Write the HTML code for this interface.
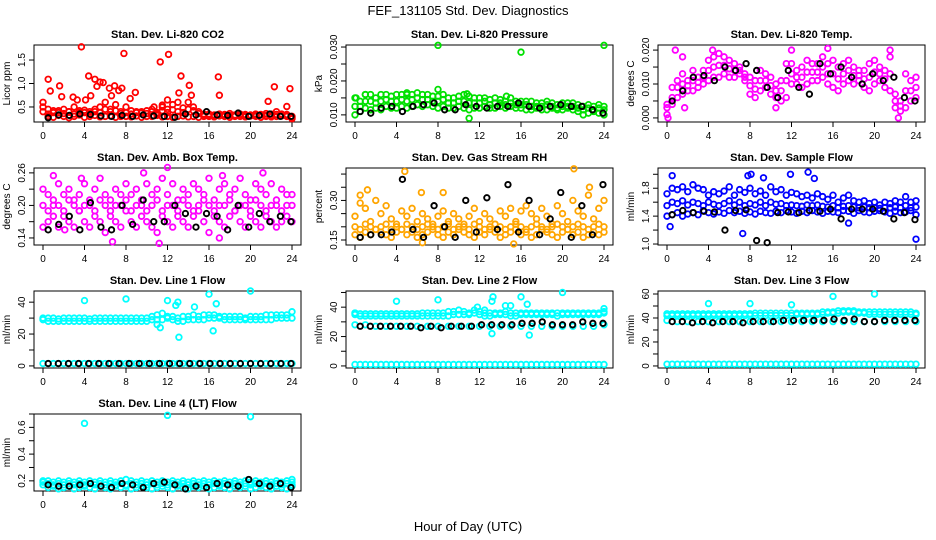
<!DOCTYPE html>
<html><head><meta charset="utf-8"><style>
html,body{margin:0;padding:0;background:#fff;}
svg{display:block;font-family:"Liberation Sans",sans-serif;}
</style></head><body>
<svg id="chart" width="936" height="540" viewBox="0 0 936 540" xmlns="http://www.w3.org/2000/svg">
<text x="468" y="15" text-anchor="middle" font-size="13">FEF_131105  Std. Dev. Diagnostics</text>
<text x="468" y="531" text-anchor="middle" font-size="13">Hour of Day (UTC)</text>
</svg>
<script>
// ---------- data ----------
const xTicks = [0,4,8,12,16,20,24];
const titles = ["Stan. Dev. Li-820 CO2","Stan. Dev. Li-820 Pressure","Stan. Dev. Li-820 Temp.","Stan. Dev. Amb. Box Temp.","Stan. Dev. Gas Stream RH","Stan. Dev. Sample Flow","Stan. Dev. Line 1 Flow","Stan. Dev. Line 2 Flow","Stan. Dev. Line 3 Flow","Stan. Dev. Line 4 (LT) Flow"];
const yTitles = ["Licor ppm","kPa","degrees C","degrees C","percent","ml/min","ml/min","ml/min","ml/min","ml/min"];
const colors = ["#ff0000","#00e000","#ff00ff","#ff00ff","#ffa500","#0000ff","#00ffff","#00ffff","#00ffff","#00ffff"];
const yMin = [0.18,0.0079,-0.0012,0.127,0.131,0.986,-1.3,-1.4,-1.7,0.124];
const yMax = [1.82,0.0306,0.0215,0.269,0.423,2.09,47,51,62.5,0.70];
const yTicks = [[0.5,1.0,1.5],[0.010,0.015,0.020,0.025,0.030],[0,0.005,0.010,0.015,0.020],[0.14,0.17,0.20,0.23,0.26],[0.15,0.20,0.25,0.30,0.35,0.40],[1.0,1.2,1.4,1.6,1.8,2.0],[0,10,20,30,40],[0,10,20,30,40,50],[0,10,20,30,40,50,60],[0.2,0.3,0.4,0.5,0.6,0.7]];
const yLabels = [["0.5","1.0","1.5"],["0.010","","0.020","","0.030"],["0.000","","0.010","","0.020"],["0.14","","0.20","","0.26"],["0.15","","","0.30","",""],["1.0","","1.4","","1.8",""],["0","","20","","40"],["0","","20","","40",""],["0","","20","","40","","60"],["0.2","","0.4","","0.6",""]];

// colored series rows (each row spread evenly across 0–24 h)
const rows0 = [
 [0.5,0.3,0.28,0.32,0.3,0.27,0.3,0.33,0.28,0.3,0.32,0.29,0.3,0.31,0.28,0.3,0.3,0.29,0.31,0.28,0.3,0.3,0.32,0.29,0.3,0.28,0.3,0.31,0.29,0.3,0.28,0.3,0.3,0.29,0.31,0.3,0.28,0.3,0.3,0.29,0.31,0.3,0.28,0.3,0.29,0.3,0.31,0.3,0.25],
 [0.4,0.35,0.38,0.42,0.36,0.4,0.35,0.38,0.43,0.36,0.4,0.38,0.45,0.4,0.42,0.36,0.38,0.35,0.4,0.37,0.36,0.4,0.35,0.42,0.38,0.44,0.4,0.38,0.45,0.42,0.36,0.33,0.32,0.31,0.32,0.33,0.32,0.31,0.33,0.32,0.31,0.32,0.33,0.32,0.31,0.34,0.32,0.31,0.28],
 [0.6,0.45,0.42,0.38,0.45,0.4,0.5,0.42,0.38,0.4,0.45,0.5,0.6,0.45,0.55,0.4,0.5,0.42,0.38,0.4,0.42,0.45,0.38,0.5,0.45,0.55,0.6,0.48,0.6,0.5,0.4,0.35,0.35,0.33,0.35,0.34,0.36,0.33,0.35,0.34,0.33,0.35,0.34,0.36,0.35,0.4,0.35,0.34,0.3]];
const rows1 = [
 [0.010,0.011,0.012,0.0115,0.012,0.0115,0.0125,0.012,0.012,0.0125,0.012,0.0125,0.013,0.0125,0.013,0.0125,0.012,0.0125,0.012,0.012,0.0125,0.012,0.0115,0.012,0.012,0.0125,0.012,0.012,0.0125,0.012,0.0125,0.012,0.012,0.0115,0.0115,0.012,0.0115,0.0115,0.012,0.0115,0.0115,0.012,0.0115,0.011,0.010,0.0105,0.011,0.0105,0.010],
 [0.0125,0.0125,0.014,0.014,0.0135,0.014,0.0145,0.014,0.014,0.0145,0.014,0.0145,0.015,0.0145,0.0145,0.014,0.014,0.0145,0.0135,0.0135,0.014,0.014,0.0135,0.0135,0.0135,0.014,0.013,0.0135,0.0135,0.013,0.0135,0.013,0.013,0.013,0.0125,0.0125,0.0125,0.013,0.0125,0.012,0.0125,0.0125,0.0125,0.012,0.0115,0.012,0.0115,0.012,0.0115],
 [0.015,0.014,0.016,0.016,0.015,0.016,0.016,0.0155,0.016,0.016,0.0165,0.016,0.0165,0.016,0.016,0.0155,0.0155,0.016,0.015,0.015,0.0155,0.016,0.0155,0.015,0.015,0.015,0.0145,0.015,0.0145,0.014,0.015,0.014,0.014,0.014,0.014,0.0135,0.0135,0.014,0.0135,0.013,0.0135,0.0135,0.0135,0.013,0.0125,0.013,0.0125,0.013,0.0125]];
const rows2 = [
 [0.001,0.004,0.006,0.007,0.008,0.008,0.009,0.01,0.011,0.012,0.012,0.013,0.012,0.012,0.013,0.011,0.007,0.006,0.008,0.009,0.007,0.006,0.005,0.006,0.01,0.01,0.009,0.01,0.011,0.011,0.012,0.01,0.009,0.008,0.01,0.011,0.01,0.011,0.009,0.008,0.01,0.011,0.009,0.008,0.003,0.002,0.003,0.005,0.006],
 [0.003,0.006,0.009,0.01,0.0095,0.011,0.0105,0.012,0.014,0.015,0.0155,0.0155,0.0145,0.014,0.014,0.012,0.0095,0.0085,0.011,0.011,0.0095,0.008,0.008,0.011,0.013,0.012,0.012,0.0135,0.0135,0.0135,0.015,0.013,0.013,0.0115,0.013,0.014,0.0125,0.0125,0.0115,0.012,0.0135,0.013,0.0115,0.013,0.005,0.0035,0.008,0.008,0.009],
 [0.004,0.009,0.011,0.013,0.011,0.014,0.012,0.014,0.017,0.018,0.019,0.018,0.017,0.016,0.015,0.013,0.012,0.011,0.014,0.013,0.012,0.01,0.011,0.016,0.016,0.014,0.015,0.017,0.016,0.016,0.018,0.016,0.017,0.015,0.016,0.017,0.015,0.014,0.014,0.016,0.017,0.015,0.014,0.018,0.007,0.005,0.013,0.011,0.012]];
const rows3 = [
 [0.16,0.17,0.18,0.16,0.18,0.17,0.16,0.19,0.17,0.16,0.18,0.17,0.15,0.18,0.17,0.16,0.19,0.17,0.16,0.18,0.17,0.16,0.15,0.18,0.17,0.16,0.18,0.17,0.16,0.18,0.19,0.17,0.15,0.18,0.17,0.16,0.18,0.19,0.17,0.16,0.18,0.17,0.16,0.18,0.17,0.16,0.17,0.18,0.17],
 [0.2,0.19,0.2,0.2,0.19,0.21,0.2,0.19,0.2,0.2,0.19,0.21,0.2,0.19,0.2,0.2,0.21,0.19,0.2,0.2,0.19,0.2,0.21,0.19,0.2,0.2,0.19,0.21,0.2,0.19,0.2,0.21,0.2,0.19,0.2,0.2,0.21,0.19,0.2,0.2,0.19,0.21,0.2,0.19,0.2,0.2,0.19,0.2,0.2],
 [0.23,0.22,0.21,0.24,0.22,0.23,0.21,0.22,0.24,0.21,0.23,0.25,0.22,0.21,0.23,0.22,0.24,0.22,0.23,0.21,0.24,0.22,0.23,0.25,0.22,0.24,0.21,0.23,0.22,0.24,0.23,0.22,0.25,0.21,0.23,0.24,0.22,0.23,0.25,0.22,0.21,0.24,0.23,0.22,0.24,0.21,0.23,0.22,0.22]];
const rows4 = [
 [0.17,0.16,0.18,0.17,0.19,0.18,0.17,0.16,0.18,0.19,0.17,0.18,0.16,0.17,0.18,0.19,0.17,0.16,0.18,0.17,0.19,0.18,0.17,0.16,0.18,0.17,0.19,0.18,0.16,0.17,0.18,0.19,0.17,0.18,0.16,0.17,0.19,0.18,0.17,0.16,0.18,0.19,0.17,0.18,0.16,0.17,0.18,0.17,0.18],
 [0.2,0.19,0.21,0.2,0.19,0.2,0.21,0.19,0.2,0.19,0.21,0.2,0.19,0.2,0.21,0.2,0.19,0.2,0.21,0.19,0.2,0.2,0.19,0.21,0.2,0.19,0.2,0.21,0.2,0.19,0.2,0.21,0.2,0.19,0.2,0.21,0.2,0.19,0.2,0.21,0.2,0.19,0.2,0.21,0.2,0.19,0.2,0.21,0.2],
 [0.24,0.29,0.27,0.22,0.3,0.25,0.28,0.23,0.21,0.26,0.24,0.27,0.22,0.25,0.23,0.21,0.24,0.26,0.22,0.25,0.23,0.21,0.24,0.27,0.22,0.25,0.23,0.21,0.26,0.24,0.27,0.22,0.26,0.28,0.25,0.23,0.27,0.24,0.21,0.28,0.25,0.22,0.3,0.26,0.24,0.32,0.23,0.27,0.3]];
const rows5 = [
 [1.4,1.42,1.45,1.4,1.43,1.45,1.42,1.48,1.45,1.43,1.46,1.44,1.48,1.45,1.47,1.44,1.46,1.43,1.47,1.45,1.44,1.47,1.45,1.48,1.46,1.44,1.47,1.45,1.48,1.46,1.44,1.47,1.46,1.45,1.48,1.47,1.44,1.48,1.46,1.45,1.47,1.48,1.46,1.44,1.47,1.45,1.46,1.48,1.42],
 [1.55,1.6,1.58,1.62,1.56,1.6,1.58,1.55,1.6,1.57,1.55,1.58,1.62,1.56,1.6,1.55,1.58,1.56,1.6,1.55,1.6,1.57,1.58,1.55,1.56,1.55,1.54,1.56,1.55,1.56,1.54,1.53,1.55,1.52,1.54,1.55,1.53,1.52,1.53,1.52,1.52,1.51,1.52,1.52,1.53,1.52,1.55,1.52,1.53],
 [1.72,1.8,1.78,1.82,1.75,1.85,1.8,1.78,1.7,1.75,1.72,1.76,1.82,1.7,1.78,1.74,1.8,1.72,1.76,1.7,1.82,1.75,1.78,1.7,1.74,1.72,1.68,1.7,1.66,1.72,1.68,1.64,1.7,1.6,1.66,1.7,1.62,1.6,1.62,1.58,1.6,1.56,1.6,1.58,1.62,1.6,1.68,1.6,1.62]];
const rows6 = [
 [29,28,28,28,28,28,28,28,28,28,28,28,28,28,28,28,28,28,28,28,28,29,29,29,30,29,28,28,29,29,29,29,30,30,30,29,29,29,29,29,29,29,29,29,29,30,30,30,30],
 [30,30,30,29.5,30,30,30,30,30,29.5,30,30,30,30,30,30,30,30,30,30,30,31,32,33,31,31,30,31,31,32,31,32,32,32,31,31,31,31,31,30,31,31,31,32,32,32,32,32,34],
 [1.5,1.5,1.5,1.5,1.5,1.5,1.5,1.5,1.5,1.5,1.5,1.5,1.5,1.5,1.5,1.5,1.5,1.5,1.5,1.5,1.5,1.5,1.5,1.5,1.5,1.5,1.5,1.5,1.5,1.5,1.5,1.5,1.5,1.5,1.5,1.5,1.5,1.5,1.5,1.5,1.5,1.5,1.5,1.5,1.5,1.5,1.5,1.5,1.5]];
const rows7 = [
 [35,34,34,34,34,34,34,34,34,34,34,34,34,34,34,34,34,34,34,35,35,35,35,36,35,34,34,35,35,35,34,34,35,35,35,35,35,35,35,34,35,35,35,35,35,35,35,35,36],
 [36,35.5,35.5,35.5,35.5,35.5,35.5,35.5,35.5,35.5,35.5,35.5,35.5,36,36,36,36,36,37,37,38,37,36,38,37,36,36,36,36,37,36,36,36,36,36,36,36,36,36,36,36,36,36,36,36,36,36,36,37],
 [28,28,27,27,27,27,27,27,27,27,27,27,27,27,27,27,27,27,27,27,27,27,27,27,28],
 [1,1,1,1,1,1,1,1,1,1,1,1,1,1,1,1,1,1,1,1,1,1,1,1,1,1,1,1,1,1,1,1,1,1,1,1,1,1,1,1,1,1,1,1,1,1,1,1,1]];
const rows8 = [
 [42,42,42,42,42,42,42,42,42,42,42,42,42,42,42,42,42,42,42,42,42,42,42,42,42,43,43,43,43,43,43,44,44,44,45,45,45,44,44,43,43,43,43,43,43,43,43,43,43],
 [43.5,43.5,43.5,43.5,43.5,43.5,43.5,43.5,43.5,43.5,43.5,43.5,43.5,43.5,43.5,43.5,43.5,44,44,44,44,44,44,44,44,44,44,44,44,44,45,45,45,46,46,46,46,45,45,45,45,45,45,45,45,45,45,45,44],
 [38,37,37,37,37,37,37,37,37,37,37,37,37,37,37,37,37,37,37,37,37,37,37,37,37],
 [1.5,1.5,1.5,1.5,1.5,1.5,1.5,1.5,1.5,1.5,1.5,1.5,1.5,1.5,1.5,1.5,1.5,1.5,1.5,1.5,1.5,1.5,1.5,1.5,1.5,1.5,1.5,1.5,1.5,1.5,1.5,1.5,1.5,1.5,1.5,1.5,1.5,1.5,1.5,1.5,1.5,1.5,1.5,1.5,1.5,1.5,1.5,1.5,1.5]];
const rows9 = [
 [0.2,0.15,0.16,0.14,0.15,0.16,0.14,0.15,0.16,0.15,0.14,0.16,0.15,0.14,0.16,0.15,0.16,0.14,0.15,0.16,0.15,0.14,0.15,0.16,0.15,0.14,0.16,0.15,0.14,0.16,0.15,0.16,0.14,0.15,0.16,0.15,0.14,0.16,0.15,0.16,0.14,0.15,0.16,0.15,0.14,0.16,0.15,0.14,0.16],
 [0.17,0.18,0.17,0.18,0.17,0.18,0.17,0.18,0.17,0.18,0.17,0.18,0.17,0.18,0.17,0.18,0.17,0.18,0.17,0.18,0.17,0.18,0.17,0.18,0.17,0.18,0.17,0.18,0.17,0.18,0.17,0.18,0.17,0.18,0.17,0.18,0.17,0.18,0.17,0.18,0.17,0.18,0.17,0.18,0.17,0.18,0.17,0.18,0.17],
 [0.19,0.2,0.19,0.2,0.19,0.2,0.19,0.2,0.19,0.2,0.19,0.2,0.19,0.2,0.19,0.2,0.21,0.2,0.19,0.2,0.19,0.2,0.19,0.2,0.19,0.2,0.19,0.2,0.19,0.2,0.19,0.2,0.19,0.2,0.19,0.2,0.19,0.2,0.19,0.2,0.19,0.2,0.19,0.2,0.19,0.2,0.19,0.2,0.19]];
const allRows = [rows0,rows1,rows2,rows3,rows4,rows5,rows6,rows7,rows8,rows9];

// outliers: hours and values
const outH = [
 [0.5,0.7,1.6,1.8,2.9,3.3,3.7,4.1,4.4,4.6,5.0,5.2,5.5,5.8,6.4,6.6,6.9,7.3,7.6,7.8,8.4,8.9,11.3,12.1,12.0,13.3,13.1,14.1,14.3,16.9,17.0,21.7,22.3,23.5,23.8,11.5,10.7],
 [8,16,24,8,0.1,1,5,10.8,14.6,11],
 [0.8,1.5,4.4,12,15.5,21.5,22.3,0.1,1.7,10.5],
 [1,3.7,12,9.7,17.3,21.2,6.7,11.2,2.1,17],
 [4.8,21.1,1.2,8.5,22.6,0.5,6.4,15.3,6.5],
 [0.5,7.8,8.1,9.3,11.9,13.6,14.2,0.3,7.3,17.5,24],
 [4,8,11.3,12,12.8,13,13.1,14.6,16,16.4,16.7,20,11],
 [4,8,11.8,12.5,13.2,13.3,13.2,14.5,15,16,16.6,16.8,20,24,0],
 [4,8,12,16,20],
 [4,12,20,24]];
const outV = [
 [1.09,0.84,0.95,0.72,0.71,0.65,1.78,0.65,1.16,0.74,1.09,0.94,1.03,1.02,0.9,0.74,0.95,0.85,0.9,1.64,0.68,0.81,1.46,1.62,0.65,1.16,0.8,0.96,0.75,1.14,0.75,0.62,0.93,0.51,0.89,0.54,0.5],
 [0.0305,0.0285,0.0305,0.0175,0.015,0.016,0.016,0.0162,0.0155,0.009],
 [0.02,0.018,0.02,0.02,0.0205,0.02,0,0,0.003,0.003],
 [0.255,0.25,0.27,0.26,0.255,0.26,0.133,0.13,0.155,0.14],
 [0.41,0.42,0.34,0.33,0.35,0.32,0.33,0.135,0.14],
 [1.98,1.98,2.0,1.95,2.0,2.03,1.94,1.25,1.15,1.3,1.07],
 [41,42,24,41,38,40,18,37,45,22,39,47,26],
 [44,45,40,38,44,47,22,41,41,47,42,21,50,39,36],
 [52,52,51,58,60],
 [0.63,0.69,0.68,0.21]];

// black series (spread evenly from 0.5 to 23.9 h)
const black0 = [0.27,0.33,0.32,0.35,0.34,0.31,0.3,0.32,0.3,0.33,0.31,0.3,0.28,0.35,0.33,0.4,0.33,0.32,0.37,0.3,0.32,0.35,0.3,0.3];
const black1 = [0.011,0.0105,0.012,0.0125,0.011,0.0125,0.013,0.0135,0.0115,0.0115,0.013,0.0125,0.012,0.0125,0.0125,0.0135,0.0125,0.012,0.0125,0.013,0.0125,0.0125,0.0115,0.0105];
const black2 = [0.005,0.008,0.012,0.0125,0.011,0.015,0.014,0.016,0.014,0.009,0.006,0.014,0.009,0.007,0.016,0.013,0.015,0.012,0.01,0.013,0.011,0.012,0.006,0.005];
const black3 = [0.155,0.165,0.18,0.155,0.205,0.16,0.155,0.2,0.165,0.21,0.17,0.17,0.2,0.185,0.16,0.185,0.18,0.155,0.2,0.16,0.185,0.17,0.18,0.17];
const black4 = [0.16,0.17,0.17,0.18,0.38,0.19,0.16,0.28,0.2,0.16,0.3,0.18,0.31,0.19,0.36,0.18,0.3,0.17,0.23,0.33,0.16,0.28,0.17,0.36];
const black5 = [1.42,1.48,1.45,1.47,1.46,1.2,1.48,1.49,1.05,1.02,1.45,1.46,1.45,1.48,1.47,1.5,1.36,1.5,1.5,1.5,1.47,1.36,1.45,1.35];
const black6 = [1.5,1.5,1.5,1.5,1.5,1.5,1.5,1.5,1.5,1.5,1.5,1.5,1.5,1.5,1.5,1.5,1.5,1.5,1.5,1.5,1.5,1.5,1.5,1.5,1.5];
const black7 = [27,27,27,27,27,27,26,27,26,27,27,27,28,28,28,28,29,29,30,28,28,28,30,29,29];
const black8 = [37,37,36,37,36,37,37,36,37,37,37,38,38,38,38,38,39,38,39,37,37,38,38,38,38];
const black9 = [0.17,0.16,0.16,0.17,0.18,0.16,0.15,0.18,0.17,0.15,0.18,0.19,0.17,0.14,0.16,0.15,0.18,0.17,0.16,0.21,0.18,0.16,0.18,0.15];
const blacks = [black0,black1,black2,black3,black4,black5,black6,black7,black8,black9];

// ---------- drawing ----------
const NS = "http://www.w3.org/2000/svg";
const svg = document.getElementById("chart");
const colX = [34,346,658], rowY = [45,168,291,414], W = 267, H = 77;
function mk(tag, attrs, parent){ const e = document.createElementNS(NS, tag); for (const k in attrs) e.setAttribute(k, attrs[k]); (parent||svg).appendChild(e); return e; }

for (let p = 0; p < 10; p++) {
  const bx = colX[p % 3], by = rowY[Math.floor(p / 3)];
  const xs = h => bx + 9 + h * (W - 18) / 24;
  const ys = v => by + H - (v - yMin[p]) / (yMax[p] - yMin[p]) * H;
  const g = mk("g", {});
  
  

  const t = mk("text", {x: bx + W / 2, y: by - 7, "text-anchor": "middle", "font-size": "11", "font-weight": "bold"}, g);
  
  
  t.textContent = titles[p];

  const box = mk("rect", {x: bx, y: by, width: W, height: H, fill: "none", stroke: "#000", "stroke-width": "1"}, g);
  
  

  xTicks.forEach(h => {
    const x = xs(h);
    mk("line", {x1: x, x2: x, y1: by + H, y2: by + H + 5, stroke: "#000"}, g);
    const tl = mk("text", {x: x, y: by + H + 17, "text-anchor": "middle", "font-size": "10"}, g);
    
    
    tl.textContent = h;
  });
  yTicks[p].forEach((v, i) => {
    const y = ys(v);
    mk("line", {x1: bx - 5, x2: bx, y1: y, y2: y, stroke: "#000"}, g);
    if (yLabels[p][i]) {
      const yl = mk("text", {x: 0, y: 0, transform: `translate(${bx - 9},${y}) rotate(-90)`, "text-anchor": "middle", "font-size": "10"}, g);
      
      
      yl.textContent = yLabels[p][i];
    }
  });
  const yt = mk("text", {x: 0, y: 0, transform: `translate(${bx - 24},${by + H / 2}) rotate(-90)`, "text-anchor": "middle", "font-size": "10"}, g);
  
  
  yt.textContent = yTitles[p];

  const pts = mk("g", {fill: "none", stroke: colors[p], "stroke-width": "1.8"}, g);
  
  
  allRows[p].forEach(row => {
    row.forEach((v, i) => {
      const h = i * 24 / (row.length - 1);
      const c = mk("circle", {cx: xs(h), cy: ys(v), r: 2.8}, pts);
      
      
    });
  });
  outH[p].forEach((h, i) => {
    const c = mk("circle", {cx: xs(h), cy: ys(outV[p][i]), r: 2.8}, pts);
    
    
  });
  const bk = mk("g", {fill: "none", stroke: "#000", "stroke-width": "1.9"}, g);
  
  
  blacks[p].forEach((v, i) => {
    const h = 0.5 + i * 23.4 / (blacks[p].length - 1);
    const c = mk("circle", {cx: xs(h), cy: ys(v), r: 2.7}, bk);
    
    
  });
}
</script>
</body></html>
